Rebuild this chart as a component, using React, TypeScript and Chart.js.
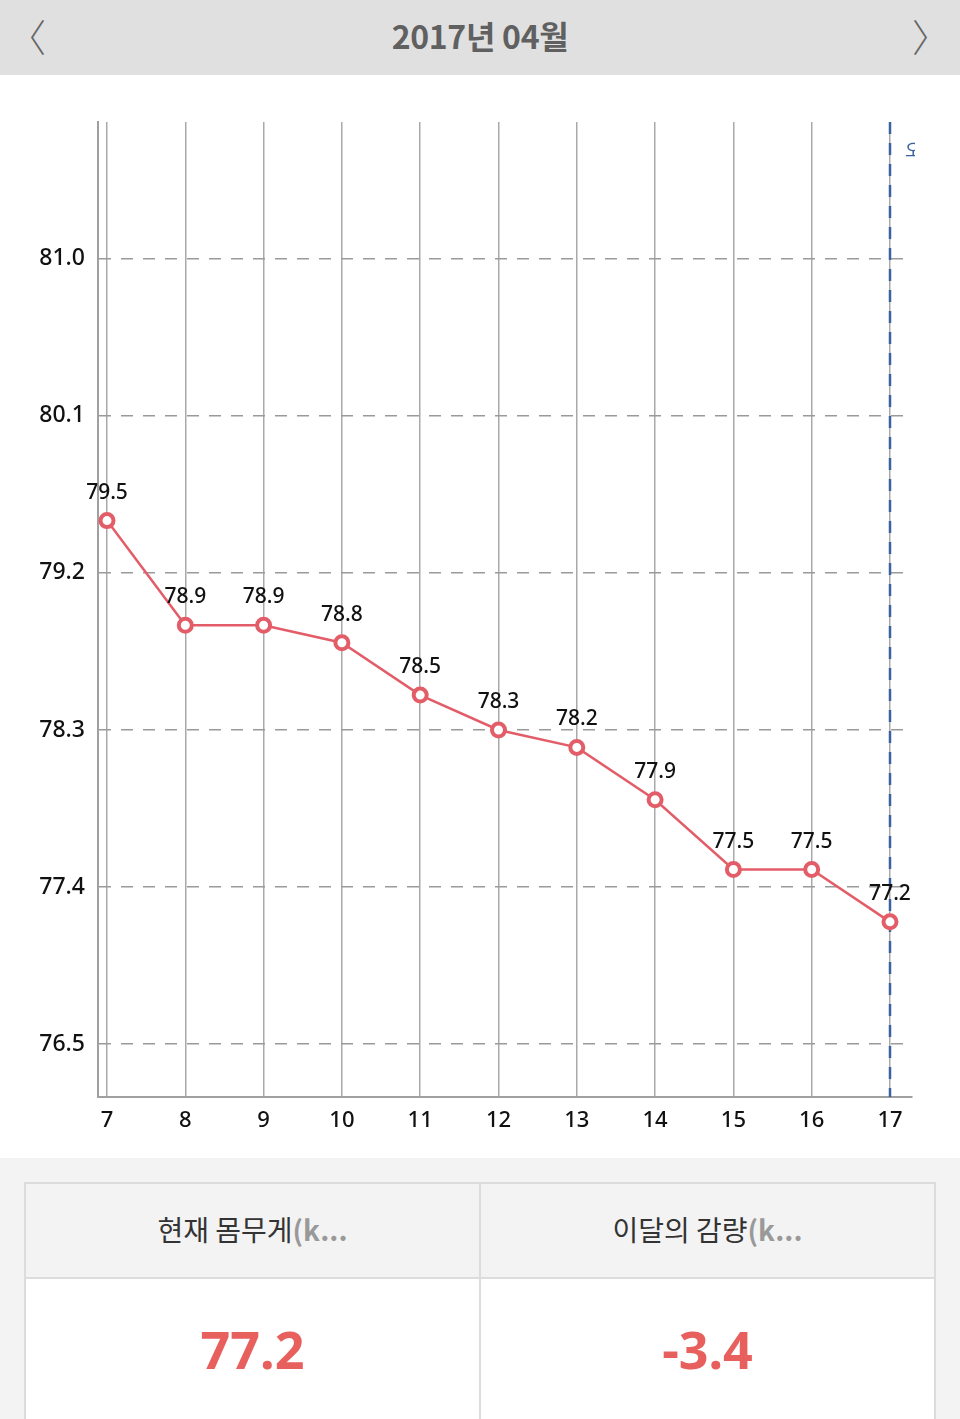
import React, { useEffect, useRef } from "react";
import { Chart, registerables } from "chart.js";

Chart.register(...registerables);

const days = [7, 8, 9, 10, 11, 12, 13, 14, 15, 16, 17];
const weights = [79.5, 78.9, 78.9, 78.8, 78.5, 78.3, 78.2, 77.9, 77.5, 77.5, 77.2];
const yTicks = [76.5, 77.4, 78.3, 79.2, 80.1, 81.0];
const todayDay = 17;
const title = "2017년 04월";
const currentWeight = "77.2";
const monthLoss = "-3.4";

const FONT = "'Noto Sans', 'Noto Sans CJK KR', sans-serif";
const KFONT = "'Noto Sans CJK KR', sans-serif";
const RED = "#e35d68";

const labelPlugin = {
  id: "pointLabels",
  afterDatasetsDraw(chart: any) {
    const ctx = chart.ctx;
    const meta = chart.getDatasetMeta(0);
    ctx.save();
    ctx.font = `500 21px ${FONT}`;
    ctx.fillStyle = "#111";
    ctx.textAlign = "center";
    ctx.textBaseline = "middle";
    meta.data.forEach((pt: any, i: number) => {
      ctx.fillText(weights[i].toFixed(1), pt.x, pt.y - 28);
    });
    ctx.restore();
  },
};

const todayPlugin = {
  id: "todayLine",
  beforeDatasetsDraw(chart: any) {
    const ctx = chart.ctx;
    const x = chart.scales.x.getPixelForValue(todayDay);
    const { top, bottom } = chart.chartArea;
    ctx.save();
    ctx.strokeStyle = "#3b62a0";
    ctx.lineWidth = 2.5;
    ctx.setLineDash([12, 9]);
    ctx.beginPath();
    ctx.moveTo(x, top);
    ctx.lineTo(x, bottom);
    ctx.stroke();
    ctx.setLineDash([]);
    ctx.beginPath();
    ctx.rect(x + 12, top, 13, 50);
    ctx.clip();
    ctx.font = `18px ${KFONT}`;
    ctx.fillStyle = "#3b62a0";
    ctx.textAlign = "left";
    ctx.textBaseline = "middle";
    ctx.fillText("오늘", x + 15, top + 28);
    ctx.restore();
  },
};

function WeightChart() {
  const ref = useRef<HTMLCanvasElement | null>(null);
  useEffect(() => {
    if (!ref.current) return;
    const chart = new Chart(ref.current, {
      type: "line",
      data: {
        datasets: [
          {
            data: days.map((d, i) => ({ x: d, y: weights[i] })),
            borderColor: RED,
            borderWidth: 2.5,
            pointRadius: 6.5,
            pointBorderWidth: 4,
            pointBackgroundColor: "#fff",
            pointBorderColor: RED,
            tension: 0,
          },
        ],
      },
      options: {
        responsive: false,
        animation: false,
        layout: { padding: { top: 47, right: 48, left: 0, bottom: 0 } },
        plugins: { legend: { display: false }, tooltip: { enabled: false } },
        scales: {
          x: {
            type: "linear",
            min: 6.885,
            max: 17.281,
            afterBuildTicks: (s: any) => {
              s.ticks = days.map((v) => ({ value: v }));
            },
            afterFit: (s: any) => {
              s.height = 61;
            },
            grid: { color: "#a9a9a9", lineWidth: 1.5, drawTicks: false },
            border: { display: true, color: "#a0a0a0", width: 2 },
            ticks: {
              padding: 11,
              color: "#111",
              font: { family: FONT, size: 22, weight: "500" },
              callback: (v: any) => String(v),
            },
          },
          y: {
            type: "linear",
            min: 76.196,
            max: 81.785,
            afterBuildTicks: (s: any) => {
              s.ticks = yTicks.map((v) => ({ value: v }));
            },
            afterFit: (s: any) => {
              s.width = 98;
            },
            grid: { color: "#9a9a9a", lineWidth: 1.5, drawTicks: false },
            border: { display: true, color: "#a0a0a0", width: 2, dash: [12, 10] },
            ticks: {
              padding: 13,
              color: "#111",
              font: { family: FONT, size: 23, weight: "500" },
              callback: (v: any) => Number(v).toFixed(1),
            },
          },
        },
      },
      plugins: [todayPlugin, labelPlugin],
    } as any);
    return () => chart.destroy();
  }, []);
  return <canvas ref={ref} width={960} height={1083} style={{ display: "block" }} />;
}

export default function App() {
  return (
    <div style={{ width: 960, fontFamily: FONT }}>
      <style>{`body{margin:0;}`}</style>
      <div
        style={{
          height: 75,
          background: "#e0e0e0",
          position: "relative",
          display: "flex",
          alignItems: "center",
          justifyContent: "center",
          boxSizing: "border-box",
          paddingBottom: 6,
        }}
      >
        <span
          style={{
            position: "absolute",
            left: 8,
            top: 8,
            fontSize: 38,
            color: "#666",
            fontWeight: 300,
            fontFamily: KFONT,
          }}
        >
          〈
        </span>
        <span
          style={{
            fontSize: 32,
            fontWeight: 700,
            color: "#606060",
            fontFamily: KFONT,
            letterSpacing: -0.3,
          }}
        >
          {title}
        </span>
        <span
          style={{
            position: "absolute",
            right: 10,
            top: 8,
            fontSize: 38,
            color: "#666",
            fontWeight: 300,
            fontFamily: KFONT,
          }}
        >
          〉
        </span>
      </div>
      <div style={{ background: "#fff" }}>
        <WeightChart />
      </div>
      <div style={{ height: 261, background: "#f3f3f3", position: "relative", overflow: "hidden" }}>
        <div
          style={{
            position: "absolute",
            left: 24,
            top: 24,
            width: 912,
            height: 280,
            border: "2px solid #dcdcdc",
            boxSizing: "border-box",
            display: "flex",
            fontFamily: KFONT,
          }}
        >
          {[
            ["현재 몸무게", currentWeight],
            ["이달의 감량", monthLoss],
          ].map(([h, v], i) => (
            <div
              key={i}
              style={{
                flex: 1,
                borderLeft: i === 1 ? "2px solid #dcdcdc" : "none",
                display: "flex",
                flexDirection: "column",
              }}
            >
              <div
                style={{
                  height: 95,
                  background: "#f3f3f3",
                  borderBottom: "2px solid #dcdcdc",
                  display: "flex",
                  alignItems: "center",
                  justifyContent: "center",
                  fontSize: 28,
                  fontWeight: 400,
                  color: "#333",
                  paddingBottom: 4,
                  boxSizing: "border-box",
                }}
              >
                {h}
                <span style={{ color: "#999", fontWeight: 700 }}>(k...</span>
              </div>
              <div
                style={{
                  flex: 1,
                  background: "#fff",
                  display: "flex",
                  justifyContent: "center",
                  paddingTop: 30,
                }}
              >
                <span
                  style={{
                    fontSize: 52,
                    fontWeight: 700,
                    color: "#e8605e",
                    fontFamily: FONT,
                    lineHeight: "80px",
                  }}
                >
                  {v}
                </span>
              </div>
            </div>
          ))}
        </div>
      </div>
    </div>
  );
}
